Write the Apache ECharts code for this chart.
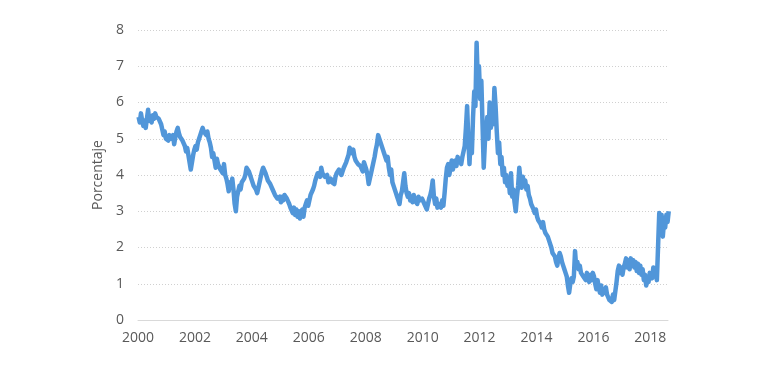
<!DOCTYPE html>
<html>
<head>
<meta charset="utf-8">
<script src="https://cdn.jsdelivr.net/npm/echarts@6/dist/echarts.min.js"></script>
<style>
html,body{margin:0;padding:0;background:#fff;}
#c{width:770px;height:367px;}
</style>
</head>
<body>
<div id="c"></div>
<script>
// Half-monthly readings (two values per month, Jan..Dec), percent
const y2000 = [5.6,5.45, 5.7,5.5, 5.35,5.5, 5.3,5.55, 5.8,5.5, 5.6,5.45, 5.65,5.55, 5.7,5.6, 5.65,5.55, 5.6,5.4, 5.35,5.1, 5.2,5.0];
const y2001 = [5.05,4.95, 5.1,5.0, 4.95,5.1, 4.85,5.05, 5.2,5.3, 5.15,5.05, 5.1,4.95, 4.9,4.8, 4.65,4.75, 4.55,4.5, 4.15,4.35, 4.55,4.7];
const y2002 = [4.8,4.7, 4.9,5.0, 5.1,5.2, 5.3,5.2, 5.25,5.1, 5.2,5.0, 4.9,4.75, 4.5,4.6, 4.4,4.2, 4.45,4.3, 4.35,4.15, 4.2,4.05];
const y2003 = [4.3,4.0, 3.9,3.75, 3.55,3.8, 3.65,3.9, 3.6,3.2, 3.0,3.4, 3.55,3.7, 3.6,3.8, 3.75,3.9, 4.0,4.2, 4.25,4.1, 4.0,3.9];
const y2004 = [3.85,3.7, 3.75,3.6, 3.5,3.65, 3.7,3.95, 4.1,4.2, 4.15,4.05, 3.95,3.85, 3.9,3.75, 3.7,3.6, 3.55,3.45, 3.5,3.35, 3.3,3.4];
const y2005 = [3.25,3.4, 3.3,3.45, 3.5,3.35, 3.3,3.2, 3.1,3.05, 2.95,3.1, 2.9,3.05, 2.85,3.0, 2.8,2.95, 3.05,2.85, 3.1,3.2, 3.3,3.15];
const y2006 = [3.3,3.45, 3.5,3.6, 3.7,3.85, 3.95,4.05, 4.1,3.95, 4.2,4.05, 4.1,3.95, 3.9,4.0, 3.8,3.75, 3.9,3.8, 3.85,3.75, 3.95,4.05];
const y2007 = [4.05,4.15, 4.1,4.0, 4.1,4.2, 4.25,4.35, 4.4,4.55, 4.75,4.8, 4.6,4.7, 4.5,4.4, 4.45,4.3, 4.35,4.25, 4.2,4.1, 4.35,4.4];
const y2008 = [4.15,4.0, 3.75,3.9, 4.05,4.2, 4.35,4.5, 4.7,4.85, 5.1,5.05, 4.9,4.95, 4.7,4.6, 4.55,4.4, 4.5,4.2, 4.0,4.15, 3.8,3.7];
const y2009 = [3.65,3.5, 3.4,3.3, 3.2,3.45, 3.55,3.8, 4.05,3.7, 3.5,3.4, 3.5,3.3, 3.4,3.25, 3.45,3.3, 3.35,3.2, 3.4,3.3, 3.25,3.35];
const y2010 = [3.3,3.2, 3.15,3.05, 3.2,3.35, 3.45,3.6, 3.85,3.4, 3.2,3.35, 3.1,3.05, 3.2,3.1, 3.3,3.15, 3.5,3.9, 4.2,4.3, 4.0,4.2];
const y2011 = [4.4,4.15, 4.3,4.4, 4.25,4.5, 4.35,4.45, 4.3,4.5, 4.55,4.8, 5.3,5.9, 5.0,4.3, 5.1,4.6, 5.6,6.3, 5.9,7.65, 6.6,7.0];
const y2012 = [6.1,6.6, 5.4,4.2, 4.9,5.2, 5.6,5.0, 6.0,5.3, 5.9,5.4, 6.4,5.9, 5.2,4.6, 4.9,4.3, 4.5,4.0, 4.2,3.8, 4.0,3.7];
const y2013 = [3.9,3.5, 4.05,3.4, 3.6,3.25, 3.0,3.4, 3.7,4.2, 3.85,3.65, 3.95,3.7, 3.85,3.6, 3.7,3.45, 3.35,3.2, 3.15,3.05, 2.95,3.05];
const y2014 = [2.85,2.75, 2.8,2.65, 2.55,2.7, 2.5,2.4, 2.45,2.3, 2.25,2.1, 2.0,1.85, 1.9,1.75, 1.6,1.5, 1.7,1.85, 1.75,1.6, 1.5,1.4];
const y2015 = [1.3,1.2, 0.95,0.75, 1.0,1.15, 1.05,1.2, 1.9,1.45, 1.6,1.4, 1.5,1.3, 1.35,1.2, 1.25,1.1, 1.3,1.15, 1.05,1.25, 1.1,1.3];
const y2016 = [1.2,1.0, 0.85,1.1, 0.9,0.75, 0.95,0.7, 0.85,0.75, 0.9,0.7, 0.75,0.55, 0.6,0.5, 0.7,0.55, 0.8,1.05, 1.35,1.5, 1.3,1.45];
const y2017 = [1.25,1.45, 1.55,1.7, 1.45,1.65, 1.4,1.7, 1.5,1.65, 1.45,1.6, 1.35,1.55, 1.3,1.5, 1.25,1.4, 1.1,1.25, 0.95,1.15, 1.05,1.3];
const y2018 = [1.35,1.15, 1.45,1.2, 1.3,1.1, 1.05,2.95, 2.4,2.9, 2.3,2.7, 2.55,2.9, 2.7,3.0];

const years = [2000,2001,2002,2003,2004,2005,2006,2007,2008,2009,2010,2011,2012,2013,2014,2015,2016,2017,2018];
const yearValues = [y2000,y2001,y2002,y2003,y2004,y2005,y2006,y2007,y2008,y2009,y2010,y2011,y2012,y2013,y2014,y2015,y2016,y2017,y2018];
const yTicks = [0,1,2,3,4,5,6,7,8];
const xTicks = [2000,2002,2004,2006,2008,2010,2012,2014,2016,2018];
const yName = 'Porcentaje';

const data = [];
years.forEach((yr, k) => {
  yearValues[k].forEach((v, i) => data.push([yr + (i + 0.5) / 24, v]));
});

const chart = echarts.init(document.getElementById('c'), null, {renderer: 'canvas'});
const font = '"Open Sans", "Noto Sans", sans-serif';
chart.setOption({
  animation: false,
  grid: {left: 138, right: 102, top: 30, bottom: 47},
  xAxis: {
    type: 'value', min: 2000, max: 2018.62, interval: 2,
    axisLine: {show: true, lineStyle: {color: '#d9d9d9', width: 1}},
    axisTick: {show: false},
    splitLine: {show: false},
    axisLabel: {
      color: '#595959', fontSize: 14, fontFamily: font, margin: 11,
      formatter: v => (xTicks.indexOf(v) >= 0 ? String(v) : '')
    }
  },
  yAxis: {
    type: 'value', min: yTicks[0], max: yTicks[yTicks.length - 1], interval: 1,
    name: yName, nameLocation: 'middle', nameGap: 27,
    nameTextStyle: {color: '#595959', fontSize: 14, fontFamily: font},
    axisLine: {show: false},
    axisTick: {show: false},
    axisLabel: {color: '#595959', fontSize: 14, fontFamily: font, margin: 14},
    splitLine: {lineStyle: {color: '#d0d0d0', type: [1, 2], width: 1}}
  },
  series: [{
    type: 'line', data: data, showSymbol: false, symbol: 'none',
    lineStyle: {color: '#5196d9', width: 4.5, join: 'round'},
    z: 3
  }]
});
</script>
</body>
</html>
